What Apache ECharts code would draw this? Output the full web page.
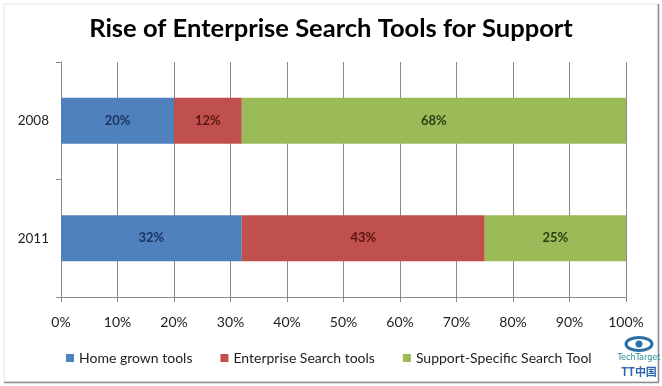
<!DOCTYPE html>
<html><head><meta charset="utf-8">
<script src="https://cdn.jsdelivr.net/npm/echarts@6/dist/echarts.min.js"></script>
<style>html,body{margin:0;padding:0;background:#fff}#c{width:662px;height:386px}</style>
</head><body><div id="c"></div>
<script>
const categories = ['2008', '2011'];
const homeGrown = [20, 32];
const enterprise = [12, 43];
const supportSpecific = [68, 25];
const seriesNames = ['Home grown tools', 'Enterprise Search tools', 'Support-Specific Search Tool'];
const ticks = [0, 10, 20, 30, 40, 50, 60, 70, 80, 90, 100];

const FONT = 'Lato, "Open Sans", sans-serif';
const chart = echarts.init(document.getElementById('c'), null, {renderer: 'canvas'});
function mk(name, data, color, labelColor) {
  return {
    name, type: 'bar', stack: 'total', data, barWidth: 46,
    itemStyle: {color},
    label: {show: true, position: 'inside', formatter: '{c}%', color: labelColor,
      fontFamily: FONT, fontSize: 13, fontWeight: 'bold'}
  };
}
chart.setOption({
  animation: false,
  backgroundColor: '#fff',
  title: {text: 'Rise of Enterprise Search Tools for Support', left: 'center', top: 11,
    textStyle: {fontFamily: FONT, fontSize: 25.5, fontWeight: 'bold', color: '#000'}},
  grid: {left: 61, right: 36, top: 62, bottom: 89},
  legend: {bottom: 16, left: 61, itemWidth: 8, itemHeight: 8, itemGap: 28, icon: 'rect',
    textStyle: {fontFamily: FONT, fontSize: 14, color: '#222'},
    data: seriesNames},
  xAxis: {type: 'value', min: ticks[0], max: ticks[ticks.length - 1], interval: 10,
    axisLine: {show: true, lineStyle: {color: '#8a8a8a'}},
    axisTick: {show: true, length: 5, lineStyle: {color: '#8a8a8a'}},
    splitLine: {show: true, lineStyle: {color: '#8a8a8a', width: 1}},
    axisLabel: {formatter: '{value}%', fontFamily: FONT, fontSize: 14, color: '#222', margin: 18}},
  yAxis: {type: 'category', data: categories, inverse: true,
    axisLine: {show: true, lineStyle: {color: '#8a8a8a'}},
    axisTick: {show: true, length: 5, lineStyle: {color: '#8a8a8a'}},
    axisLabel: {fontFamily: FONT, fontSize: 13.5, color: '#222', margin: 12}},
  series: [
    mk(seriesNames[0], homeGrown, '#4F81BD', '#1d3462'),
    mk(seriesNames[1], enterprise, '#C0504D', '#5c1412'),
    mk(seriesNames[2], supportSpecific, '#9BBB59', '#2e3d12')
  ],
  graphic: [
    {type: 'rect', shape: {x: 4, y: 4, width: 654, height: 378}, style: {fill: 'none', stroke: '#e2e2e2', lineWidth: 1}, silent: true},
    {type: 'line', shape: {x1: 658.5, y1: 4, x2: 658.5, y2: 382}, style: {stroke: '#8c8c8c', lineWidth: 1.5}},
    {type: 'line', shape: {x1: 4, y1: 382.5, x2: 659, y2: 382.5}, style: {stroke: '#8c8c8c', lineWidth: 1.5}},
    {type: 'ellipse', shape: {cx: 639, cy: 344, rx: 13, ry: 6.5}, style: {fill: 'none', stroke: '#2a6fa8', lineWidth: 3}},
    {type: 'circle', shape: {cx: 639, cy: 344, r: 3.5}, style: {fill: '#2a6fa8'}},
    {type: 'text', style: {x: 639, y: 358, text: 'TechTarget', fill: '#2a8a9a', font: '9px "Liberation Sans Narrow", "DejaVu Sans Condensed", sans-serif', align: 'center', verticalAlign: 'middle'}},
    {type: 'text', style: {x: 639, y: 372, text: 'TT中国', fill: '#3068b0', font: 'bold 11px "Noto Sans CJK SC", sans-serif', align: 'center', verticalAlign: 'middle'}}
  ]
});
</script></body></html>
